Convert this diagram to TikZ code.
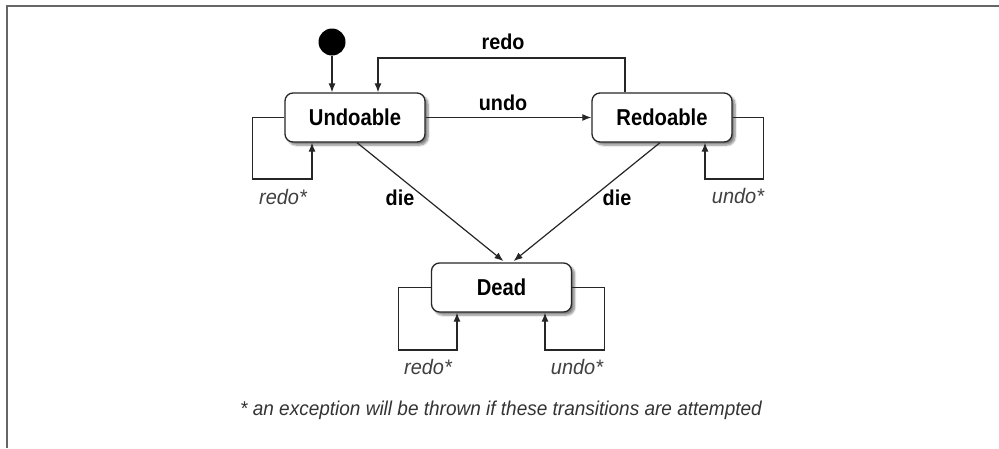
\documentclass[tikz,border=0pt]{standalone}
\usepackage{fontspec}
\setmainfont{Liberation Sans}
\newfontfamily\cond[FakeStretch=0.88]{Liberation Sans}
\newfontfamily\condb[FakeStretch=0.92]{Liberation Sans}
\newfontfamily\condi[FakeStretch=0.95]{Liberation Sans}
\usetikzlibrary{arrows.meta,shadows.blur}
\begin{document}
\begin{tikzpicture}[x=1pt,y=-1pt,
  state/.style={draw=black!85,line width=1.3pt,rounded corners=8pt,fill=white,
    minimum width=140pt,minimum height=49pt,inner sep=0pt,
    blur shadow={shadow xshift=3pt,shadow yshift=-3pt,shadow blur steps=6,shadow opacity=50},
    font=\cond\bfseries\fontsize{23}{25}\selectfont},
  arr/.style={draw=black!85,line width=1.2pt,-{Latex[length=9pt,width=7pt]}},
  lbl/.style={font=\condb\bfseries\fontsize{21.5}{23}\selectfont,inner sep=0pt},
  ilbl/.style={font=\condi\itshape\fontsize{21}{23}\selectfont,text=black!75,inner sep=0pt},
  frame/.style={draw=black!60,line width=2.5pt}]
\useasboundingbox (0,0) rectangle (999,448);
\draw[frame] (7,448) -- (7,6) -- (999,6);

\node[circle,fill=black,minimum size=27pt,inner sep=0pt] (init) at (332,42) {};
\node[state] (und) at (355,117.5) {Undoable};
\node[state] (red) at (662,117.5) {Redoable};
\node[state] (dead) at (501.5,287.5) {Dead};

\coordinate (redotop) at (500,58);
\coordinate (ulp) at (282,179);
\coordinate (rlp) at (734,179);
\coordinate (dlp) at (428,350);
\coordinate (drp) at (575,350);

\draw[arr] (init) -- (init |- und.north);
\draw[arr] ([xshift=-37pt]red.north) |- (redotop) -| ([xshift=23pt]und.north);
\draw[arr] (und.east) -- (red.west);
\draw[arr] (und.west) -- ++(-32,0) |- (ulp) -| ([xshift=-43pt]und.south);
\draw[arr] (red.east) -- ++(31,0) |- (rlp) -| ([xshift=43pt]red.south);
\draw[arr] (dead.west) -- ++(-32,0) |- (dlp) -| ([xshift=-44.5pt]dead.south);
\draw[arr] (dead.east) -- ++(32,0) |- (drp) -| ([xshift=43.5pt]dead.south);
\draw[arr,shorten >=2pt] ([xshift=2pt]und.south) -- ([xshift=3.5pt]dead.north);
\draw[arr,shorten >=2pt] ([xshift=-2pt]red.south) -- ([xshift=10.5pt]dead.north);

\node[lbl] (lredo) at (503,42) {redo};
\node[lbl] (lundo) at (503,103) {undo};
\node[lbl] (ldie1) at (400,198) {die};
\node[lbl] (ldie2) at (617,198) {die};
\node[ilbl] (lur) at (283,197) {redo*};
\node[ilbl] (lru) at (738,196) {undo*};
\node[ilbl] (ldr) at (428,367) {redo*};
\node[ilbl] (ldu) at (577,367) {undo*};
\node[font=\condi\itshape\fontsize{20}{22}\selectfont,text=black!80,inner sep=0pt] (note) at (501,410)
  {* an exception will be thrown if these transitions are attempted};
\end{tikzpicture}
\end{document}
